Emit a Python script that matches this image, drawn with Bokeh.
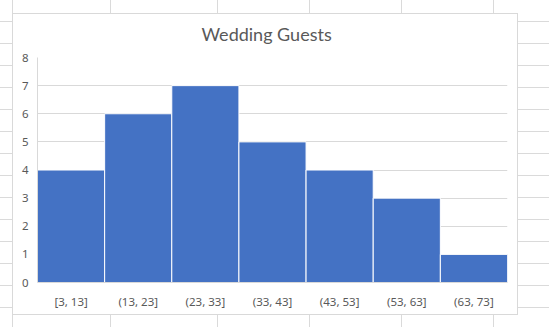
from bokeh.plotting import figure
from bokeh.models import FactorRange, Range1d, FixedTicker
from bokeh.embed import file_html
from bokeh.resources import INLINE

# ---- data ----
bins = ["[3, 13]", "(13, 23]", "(23, 33]", "(33, 43]", "(43, 53]", "(53, 63]", "(63, 73]"]
counts = [4, 6, 7, 5, 4, 3, 1]
y_ticks = [0, 1, 2, 3, 4, 5, 6, 7, 8]
chart_title = "Wedding Guests"

TEXT = "#595959"
GRID = "#d9d9d9"
SHEET = "#dadada"

p = figure(width=549, height=327,
           x_range=FactorRange(factors=bins),
           y_range=Range1d(0, y_ticks[-1]),
           output_backend="svg", toolbar_location=None,
           title=chart_title,
           min_border_left=37, min_border_right=42,
           min_border_top=57, min_border_bottom=45)

p.vbar(x=bins, top=counts, width=1, fill_color="#4472C4",
       line_color="white", line_width=1)

# spreadsheet backdrop + chart box (decoration, CSS only)
cols = [12, 110, 217, 309, 401, 493]
layers = ["linear-gradient(#ffffff,#ffffff)", f"linear-gradient({GRID},{GRID})"]
pos = ["13px 14px", "12px 13px"]
size = ["504px 300px", "506px 302px"]
rep = ["no-repeat", "no-repeat"]
for c in cols:
    layers.append(f"linear-gradient({SHEET},{SHEET})")
    pos.append(f"{c}px 0px")
    size.append("1px 100%")
    rep.append("no-repeat")
layers.append(f"repeating-linear-gradient(to bottom, transparent 0px, transparent 21px, {SHEET} 21px, {SHEET} 22px)")
pos.append("0px 0px")
size.append("100% 100%")
rep.append("repeat")
p.styles = {
    "background-color": "#ffffff",
    "background-image": ", ".join(layers),
    "background-position": ", ".join(pos),
    "background-size": ", ".join(size),
    "background-repeat": ", ".join(rep),
}
p.border_fill_alpha = 0
p.background_fill_color = "white"
p.outline_line_color = None

p.title.text_font = "Lato"
p.title.text_font_size = "18px"
p.title.text_font_style = "normal"
p.title.text_color = TEXT
p.title.align = "left"
p.title.offset = 164
p.title.standoff = 26

p.xgrid.visible = False
p.ygrid.ticker = FixedTicker(ticks=y_ticks)
p.ygrid.grid_line_color = GRID
p.ygrid.grid_line_width = 1

p.yaxis.ticker = FixedTicker(ticks=y_ticks)
for ax in (p.xaxis[0], p.yaxis[0]):
    ax.major_tick_line_color = None
    ax.minor_tick_line_color = None
    ax.major_tick_out = 0
    ax.major_tick_in = 0
    ax.axis_line_color = GRID
    ax.major_label_text_font = "Noto Sans"
    ax.major_label_text_font_size = "11.5px"
    ax.major_label_text_color = TEXT
p.yaxis.major_label_standoff = 9
p.xaxis.major_label_standoff = 11

open("out.html", "w").write(file_html(p, INLINE))
